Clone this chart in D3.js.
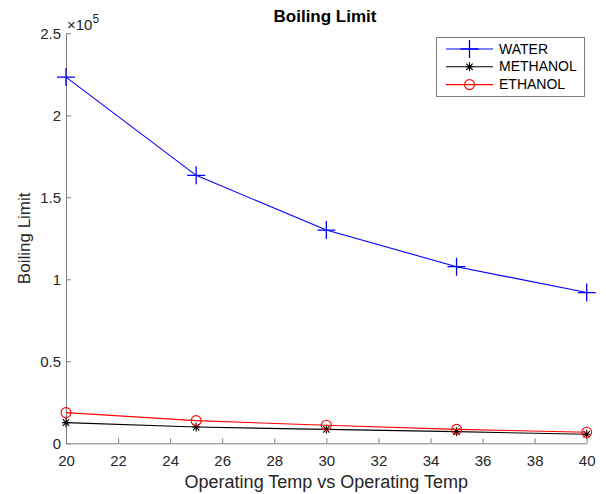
<!DOCTYPE html>
<html>
<head>
<meta charset="utf-8">
<style>
html, body { margin: 0; background: #fff; }
text { font-family: "Liberation Sans", Arial, sans-serif; fill: #262626; }
.axis path, .axis line { stroke: #808080; }
</style>
<script src="https://cdn.jsdelivr.net/npm/d3@7"></script>
</head>
<body>
<svg width="606" height="494"></svg>
<script>
// values
var temps = [20, 25, 30, 35, 40];
var water = [223300, 163400, 130000, 107700, 91900];
var methanol = [12600, 9900, 8500, 7100, 5500];
var ethanol = [18700, 13800, 11000, 8500, 6700];
var xTicks = [20, 22, 24, 26, 28, 30, 32, 34, 36, 38, 40];
var yTicks = [0, 0.5, 1, 1.5, 2, 2.5];

var series = [
  {name: "WATER", values: water, color: "#0000ff", marker: "plus"},
  {name: "METHANOL", values: methanol, color: "#000000", marker: "star"},
  {name: "ETHANOL", values: ethanol, color: "#ff0000", marker: "circle"}
];

var svg = d3.select("svg");
var margin = {left: 66, right: 19.3, top: 33.3, bottom: 50.7};
var width = 606 - margin.left - margin.right;
var height = 494 - margin.top - margin.bottom;

var x = d3.scaleLinear().domain([20, 40]).range([margin.left, margin.left + width]);
var y = d3.scaleLinear().domain([0, 2.5e5]).range([margin.top + height, margin.top]);

// axes, ticks pointing inward
svg.append("g")
    .attr("class", "axis")
    .attr("transform", "translate(0," + (margin.top + height) + ")")
    .call(d3.axisBottom(x).tickValues(xTicks).tickSizeInner(-5).tickSizeOuter(0).tickPadding(12));
svg.append("g")
    .attr("class", "axis")
    .attr("transform", "translate(" + margin.left + ",0)")
    .call(d3.axisLeft(y).tickValues(yTicks.map(function(v) { return v * 1e5; }))
      .tickFormat(function(v) { return d3.format("")(v / 1e5); })
      .tickSizeInner(-5).tickSizeOuter(0).tickPadding(5));
svg.selectAll(".axis text").style("font-size", "15px").attr("fill", "#262626")
    .style("font-family", "'Liberation Sans', Arial, sans-serif");

// exponent label
var expo = svg.append("text")
    .attr("x", 67)
    .attr("y", 29.5)
    .style("font-size", "15px");
expo.append("tspan").text("\u00d710");
expo.append("tspan").attr("dy", -7).style("font-size", "12px").text("5");

// title and axis labels
svg.append("text")
    .attr("x", 325).attr("y", 21.5)
    .attr("text-anchor", "middle")
    .style("font-size", "17px").style("font-weight", "bold")
    .style("fill", "#000")
    .text("Boiling Limit");
svg.append("text")
    .attr("x", x(30)).attr("y", 487.5)
    .attr("text-anchor", "middle")
    .style("font-size", "18px")
    .text("Operating Temp vs Operating Temp");
svg.append("text")
    .attr("transform", "translate(30," + y(1.25e5) + ") rotate(-90)")
    .attr("text-anchor", "middle")
    .style("font-size", "17px")
    .text("Boiling Limit");

function drawMarker(g, type, color) {
  if (type === "plus") {
    g.append("path").attr("d", "M-9,0H9M0,-9V9").attr("stroke", color).attr("stroke-width", 1.3).attr("fill", "none");
  } else if (type === "star") {
    g.append("path").attr("d", "M-4,0H4M0,-4.5V4.5M-3.2,-3.2L3.2,3.2M-3.2,3.2L3.2,-3.2")
      .attr("stroke", color).attr("stroke-width", 1.1).attr("fill", "none");
  } else {
    g.append("circle").attr("r", 5).attr("stroke", color).attr("stroke-width", 1.1).attr("fill", "none");
  }
}

var line = d3.line()
    .x(function(d, i) { return x(temps[i]); })
    .y(function(d) { return y(d); });

series.forEach(function(s) {
  svg.append("path")
      .datum(s.values)
      .attr("d", line)
      .attr("fill", "none")
      .attr("stroke", s.color)
      .attr("stroke-width", 1.1);
  s.values.forEach(function(v, i) {
    var g = svg.append("g").attr("transform", "translate(" + x(temps[i]) + "," + y(v) + ")");
    drawMarker(g, s.marker, s.color);
  });
});

// legend
var legend = svg.append("g").attr("transform", "translate(436.5,37.5)");
legend.append("rect")
    .attr("width", 148).attr("height", 59)
    .attr("fill", "#fff").attr("stroke", "#808080").attr("stroke-width", 1);
series.forEach(function(s, i) {
  var ly = 11.5 + i * 17.8;
  legend.append("line")
      .attr("x1", 9.5).attr("x2", 56.5).attr("y1", ly).attr("y2", ly)
      .attr("stroke", s.color).attr("stroke-width", 1.1);
  var g = legend.append("g").attr("transform", "translate(33," + ly + ")");
  drawMarker(g, s.marker, s.color);
  legend.append("text")
      .attr("x", 62.5).attr("y", ly + 4.5)
      .style("font-size", "14px")
      .style("fill", "#000")
      .text(s.name);
});
</script>
</body>
</html>
